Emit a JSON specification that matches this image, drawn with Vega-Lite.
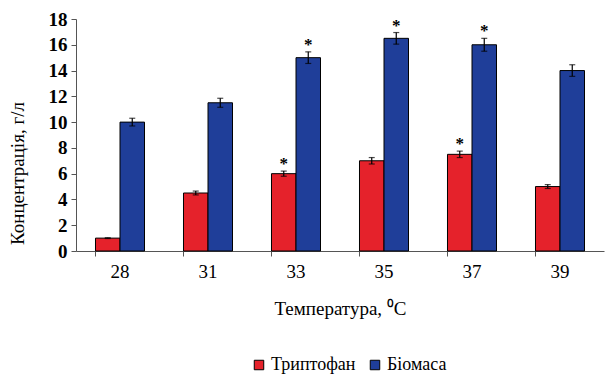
{
  "$schema": "https://vega.github.io/schema/vega-lite/v6.json",
  "width": 528,
  "height": 232,
  "autosize": "none",
  "padding": {"left": 76, "top": 19, "right": 1, "bottom": 123},
  "background": "white",
  "config": {
    "font": "Liberation Serif",
    "view": {"stroke": null}
  },
  "data": {
    "values": [
      {"temp": "28", "series": "Триптофан", "value": 1.0, "lo": 0.97, "hi": 1.03, "star": ""},
      {"temp": "28", "series": "Біомаса", "value": 10.0, "lo": 9.7, "hi": 10.3, "star": ""},
      {"temp": "31", "series": "Триптофан", "value": 4.5, "lo": 4.35, "hi": 4.65, "star": ""},
      {"temp": "31", "series": "Біомаса", "value": 11.5, "lo": 11.15, "hi": 11.85, "star": ""},
      {"temp": "33", "series": "Триптофан", "value": 6.0, "lo": 5.8, "hi": 6.2, "star": "*"},
      {"temp": "33", "series": "Біомаса", "value": 15.0, "lo": 14.55, "hi": 15.45, "star": "*"},
      {"temp": "35", "series": "Триптофан", "value": 7.0, "lo": 6.75, "hi": 7.25, "star": ""},
      {"temp": "35", "series": "Біомаса", "value": 16.5, "lo": 16.05, "hi": 16.95, "star": "*"},
      {"temp": "37", "series": "Триптофан", "value": 7.5, "lo": 7.25, "hi": 7.75, "star": "*"},
      {"temp": "37", "series": "Біомаса", "value": 16.0, "lo": 15.5, "hi": 16.5, "star": "*"},
      {"temp": "39", "series": "Триптофан", "value": 5.0, "lo": 4.85, "hi": 5.15, "star": ""},
      {"temp": "39", "series": "Біомаса", "value": 14.0, "lo": 13.55, "hi": 14.45, "star": ""}
    ]
  },
  "encoding": {
    "x": {
      "field": "temp", "type": "ordinal", "sort": null,
      "scale": {"paddingInner": 0.443, "paddingOuter": 0.2215},
      "axis": {"title": "Температура, ⁰С", "labelAngle": 0, "labelFont": "Liberation Serif", "titleFont": "Liberation Serif", "labelFontSize": 19, "titleFontSize": 19, "titleFontWeight": "normal", "labelColor": "black", "titleColor": "black", "domainColor": "#555", "tickColor": "#555", "labelPadding": 6, "titlePadding": 18, "tickSize": 5, "bandPosition": 0, "grid": false}
    },
    "xOffset": {"field": "series", "type": "nominal", "sort": ["Триптофан", "Біомаса"], "scale": {"paddingInner": 0, "paddingOuter": 0}}
  },
  "layer": [
    {
      "mark": {"type": "bar", "stroke": "black", "strokeWidth": 1},
      "encoding": {
        "y": {"field": "value", "type": "quantitative", "scale": {"domain": [0, 18], "nice": false},
          "axis": {"title": "Концентрація, г/л", "values": [0, 2, 4, 6, 8, 10, 12, 14, 16, 18], "labelOverlap": false, "labelFont": "Liberation Serif", "titleFont": "Liberation Serif", "labelFontSize": 19, "labelFontWeight": "bold", "titleFontSize": 19, "titleFontWeight": "normal", "labelColor": "black", "titleColor": "black", "domainColor": "#555", "tickColor": "#555", "tickSize": 5, "labelPadding": 4, "titleX": -59, "titleY": 154, "titleAlign": "center", "titleBaseline": "middle", "grid": false}},
        "color": {
          "field": "series", "type": "nominal", "sort": ["Триптофан", "Біомаса"],
          "scale": {"domain": ["Триптофан", "Біомаса"], "range": ["#e5222b", "#1f3e99"]},
          "legend": {"title": null, "orient": "none", "direction": "horizontal", "legendX": 174, "legendY": 337, "labelFont": "Liberation Serif", "labelFontSize": 18, "labelColor": "black", "symbolType": "square", "symbolSize": 90, "symbolStrokeColor": "black", "symbolStrokeWidth": 1, "columnPadding": 10, "labelOffset": 3}
        }
      }
    },
    {
      "mark": {"type": "rule", "color": "black", "strokeWidth": 1.2},
      "encoding": {"y": {"field": "lo", "type": "quantitative", "axis": {"title": "Концентрація, г/л", "values": [0, 2, 4, 6, 8, 10, 12, 14, 16, 18], "labelOverlap": false, "labelFont": "Liberation Serif", "titleFont": "Liberation Serif", "labelFontSize": 19, "labelFontWeight": "bold", "titleFontSize": 19, "titleFontWeight": "normal", "labelColor": "black", "titleColor": "black", "domainColor": "#555", "tickColor": "#555", "tickSize": 5, "labelPadding": 4, "titleX": -59, "titleY": 154, "titleAlign": "center", "titleBaseline": "middle", "grid": false}}, "y2": {"field": "hi"}}
    },
    {
      "mark": {"type": "tick", "color": "black", "size": 6, "thickness": 1.2, "orient": "horizontal"},
      "encoding": {"y": {"field": "hi", "type": "quantitative", "axis": {"title": "Концентрація, г/л", "values": [0, 2, 4, 6, 8, 10, 12, 14, 16, 18], "labelOverlap": false, "labelFont": "Liberation Serif", "titleFont": "Liberation Serif", "labelFontSize": 19, "labelFontWeight": "bold", "titleFontSize": 19, "titleFontWeight": "normal", "labelColor": "black", "titleColor": "black", "domainColor": "#555", "tickColor": "#555", "tickSize": 5, "labelPadding": 4, "titleX": -59, "titleY": 154, "titleAlign": "center", "titleBaseline": "middle", "grid": false}}}
    },
    {
      "mark": {"type": "tick", "color": "black", "size": 6, "thickness": 1.2, "orient": "horizontal"},
      "encoding": {"y": {"field": "lo", "type": "quantitative", "axis": {"title": "Концентрація, г/л", "values": [0, 2, 4, 6, 8, 10, 12, 14, 16, 18], "labelOverlap": false, "labelFont": "Liberation Serif", "titleFont": "Liberation Serif", "labelFontSize": 19, "labelFontWeight": "bold", "titleFontSize": 19, "titleFontWeight": "normal", "labelColor": "black", "titleColor": "black", "domainColor": "#555", "tickColor": "#555", "tickSize": 5, "labelPadding": 4, "titleX": -59, "titleY": 154, "titleAlign": "center", "titleBaseline": "middle", "grid": false}}}
    },
    {
      "mark": {"type": "text", "font": "Liberation Serif", "fontSize": 17, "fontWeight": "bold", "baseline": "bottom", "dy": 2, "color": "black"},
      "encoding": {"y": {"field": "hi", "type": "quantitative", "axis": {"title": "Концентрація, г/л", "values": [0, 2, 4, 6, 8, 10, 12, 14, 16, 18], "labelOverlap": false, "labelFont": "Liberation Serif", "titleFont": "Liberation Serif", "labelFontSize": 19, "labelFontWeight": "bold", "titleFontSize": 19, "titleFontWeight": "normal", "labelColor": "black", "titleColor": "black", "domainColor": "#555", "tickColor": "#555", "tickSize": 5, "labelPadding": 4, "titleX": -59, "titleY": 154, "titleAlign": "center", "titleBaseline": "middle", "grid": false}}, "text": {"field": "star"}}
    }
  ]
}
